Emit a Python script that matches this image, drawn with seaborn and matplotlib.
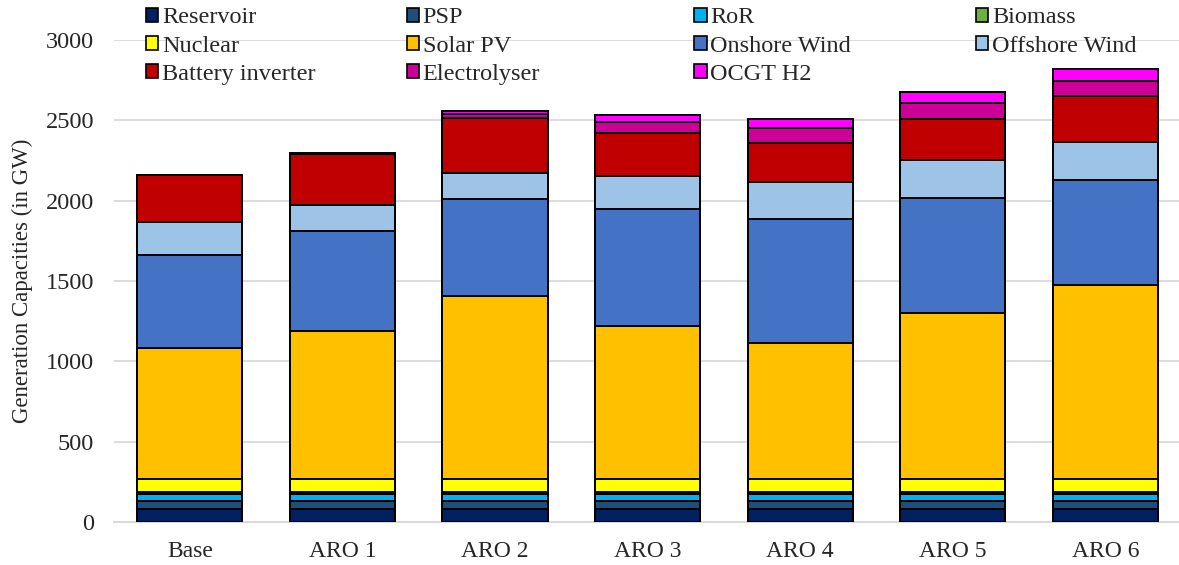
import numpy as np
import pandas as pd
import matplotlib
matplotlib.use("Agg")
import matplotlib.pyplot as plt
import matplotlib.patches as mpatches
import seaborn as sns

# Data (GW)
scenarios = ["Base", "ARO 1", "ARO 2", "ARO 3", "ARO 4", "ARO 5", "ARO 6"]
reservoir = [80, 80, 80, 80, 80, 80, 80]
psp = [50, 50, 50, 50, 50, 50, 50]
ror = [42, 42, 42, 42, 42, 42, 42]
biomass = [13, 13, 13, 13, 13, 13, 13]
nuclear = [85, 85, 85, 85, 85, 85, 85]
solar_pv = [813, 919, 1137, 950, 844, 1031, 1205]
onshore_wind = [579, 622, 603, 728, 772, 716, 654]
offshore_wind = [205, 162, 162, 205, 230, 236, 236]
battery_inverter = [293, 317, 342, 270, 245, 255, 285]
electrolyser = [0, 3, 25, 65, 89, 102, 97]
ocgt_h2 = [0, 2, 20, 45, 58, 66, 71]

series_names = ["Reservoir", "PSP", "RoR", "Biomass", "Nuclear", "Solar PV",
                "Onshore Wind", "Offshore Wind", "Battery inverter",
                "Electrolyser", "OCGT H2"]
series_values = [reservoir, psp, ror, biomass, nuclear, solar_pv,
                 onshore_wind, offshore_wind, battery_inverter,
                 electrolyser, ocgt_h2]
series_colors = ["#002060", "#1F4E79", "#00B0F0", "#70AD47", "#FFFF00",
                 "#FFC000", "#4472C4", "#9DC3E6", "#C00000", "#CC0099",
                 "#FF00FF"]

# Long table with cumulative tops for stacking
df = pd.DataFrame(dict(zip(series_names, series_values)), index=scenarios)
cum = df.cumsum(axis=1)

sns.set_style("white")
plt.rcParams["font.family"] = ["Liberation Serif", "DejaVu Serif"]

fig = plt.figure(figsize=(11.79, 5.65), dpi=100)
ax = fig.add_axes([0.0963, 0.0761, 0.906, 0.853])

# draw from the top series down so each bar covers the ones above it
for name, color in reversed(list(zip(series_names, series_colors))):
    sns.barplot(x=scenarios, y=cum[name].values, color=color,
                edgecolor="black", linewidth=1.4, width=0.69,
                saturation=1, ax=ax, zorder=3)

ax.set_ylim(0, 3000)
ax.set_xlim(-0.5, 6.5)
ax.set_yticks(np.arange(0, 3001, 500))
ax.yaxis.grid(True, color="#D9D9D9", linewidth=1.3, zorder=0)
ax.set_axisbelow(True)
for side in ["top", "right", "left"]:
    ax.spines[side].set_visible(False)
ax.spines["bottom"].set_color("#D9D9D9")
ax.spines["bottom"].set_linewidth(1.5)
ax.tick_params(axis="y", length=0, labelsize=17.5, pad=14)
ax.tick_params(axis="x", length=0, labelsize=17, pad=14)
ax.set_ylabel("Generation Capacities (in GW)", fontsize=16.5, labelpad=9)
ax.set_xlabel("")

# Legend: four columns, placed one by one
handles = [mpatches.Patch(facecolor=c, edgecolor="black", linewidth=1.2, label=n)
           for n, c in zip(series_names, series_colors)]
col_x = [0.124, 0.345, 0.589, 0.828]
for i, x in enumerate(col_x):
    col_handles = handles[i::4]
    leg = fig.legend(handles=col_handles, loc="upper left",
                     bbox_to_anchor=(x, 0.987), frameon=False, fontsize=17.5,
                     handlelength=0.5, handleheight=0.5, handletextpad=0.15,
                     labelspacing=0.3, borderpad=0, borderaxespad=0)

fig.savefig("out.png", dpi=100)
